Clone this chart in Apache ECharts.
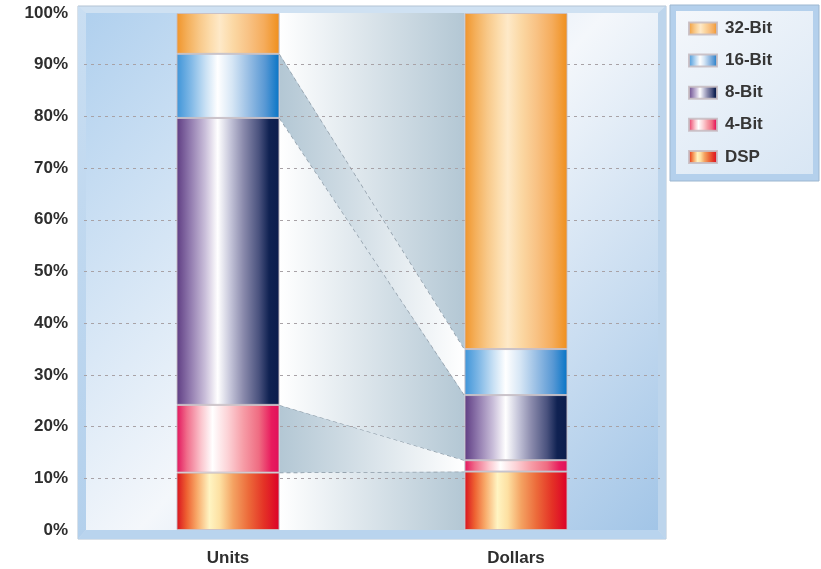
<!DOCTYPE html>
<html>
<head>
<meta charset="utf-8">
<script src="https://cdn.jsdelivr.net/npm/echarts@6/dist/echarts.min.js"></script>
<style>html,body{margin:0;padding:0;background:#fff;}#c{width:821px;height:569px;}</style>
</head>
<body>
<div id="c"></div>
<script>
const categories = ['Units', 'Dollars'];
const seriesNames = ['DSP', '4-Bit', '8-Bit', '16-Bit', '32-Bit'];
const dspValues = [11.1, 11.3];
const bit4Values = [13.1, 2.2];
const bit8Values = [55.5, 12.6];
const bit16Values = [12.4, 8.9];
const bit32Values = [7.9, 65.0];
const legendOrder = ['32-Bit', '16-Bit', '8-Bit', '4-Bit', 'DSP'];

const valuesByName = {
  'DSP': dspValues, '4-Bit': bit4Values, '8-Bit': bit8Values,
  '16-Bit': bit16Values, '32-Bit': bit32Values
};

const BAR_W = 103;
const FONT = "'Liberation Sans', Arial, sans-serif";

function hgrad(stops) {
  return {
    type: 'linear', x: 0, y: 0, x2: 1, y2: 0,
    colorStops: stops.map(s => ({ offset: s[0], color: s[1] }))
  };
}

const barGradients = {
  '32-Bit': hgrad([[0,'#f0942a'],[0.1,'#f4ae58'],[0.22,'#f8c888'],[0.33,'#fcdcac'],[0.42,'#fee9c8'],[0.55,'#fbd8a4'],[0.7,'#f8c284'],[0.85,'#f5ac5c'],[1,'#ef8f1c']]),
  '16-Bit': hgrad([[0,'#3e94d8'],[0.14,'#80b8e6'],[0.28,'#c8e0f4'],[0.4,'#ffffff'],[0.54,'#d6e6f5'],[0.7,'#98bee4'],[0.86,'#5898d4'],[1,'#0674c6']]),
  '8-Bit':  hgrad([[0,'#5e3c82'],[0.12,'#8c74aa'],[0.28,'#cabfda'],[0.4,'#ffffff'],[0.52,'#c6c6da'],[0.65,'#8a8aac'],[0.8,'#4a527e'],[0.9,'#102252'],[1,'#0c1c4c']]),
  '4-Bit':  hgrad([[0,'#e2125c'],[0.1,'#f06c8a'],[0.24,'#fbc6ce'],[0.35,'#ffffff'],[0.5,'#fcd2d6'],[0.65,'#f69ca6'],[0.8,'#ef6c82'],[0.92,'#e81c5e'],[1,'#e0105a']]),
  'DSP':    hgrad([[0,'#d8101e'],[0.1,'#ee6232'],[0.2,'#f8aa6a'],[0.32,'#fff4c2'],[0.42,'#fde0a2'],[0.55,'#f4a262'],[0.7,'#ec6a3a'],[0.85,'#e43226'],[1,'#dc0028']])
};

// cumulative segments for the connector bands
const connectorData = [];
let cu = 0, cd = 0;
seriesNames.forEach((n, i) => {
  const v = valuesByName[n];
  connectorData.push([0, cu, cu + v[0], cd, cd + v[1], i]);
  cu += v[0]; cd += v[1];
});

const barSeries = seriesNames.map(n => ({
  name: n,
  type: 'bar',
  stack: 'total',
  barWidth: BAR_W,
  z: 4,
  data: valuesByName[n],
  itemStyle: { color: barGradients[n], borderColor: 'rgba(200,190,195,0.9)', borderWidth: 1 },
  emphasis: { disabled: true }
}));

const connectorSeries = {
  name: 'connectors',
  type: 'custom',
  z: 2,
  silent: true,
  encode: { x: 0, y: [1, 2, 3, 4] },
  data: connectorData,
  renderItem: function (params, api) {
    const uB = api.coord([0, api.value(1)]);
    const uT = api.coord([0, api.value(2)]);
    const dB = api.coord([1, api.value(3)]);
    const dT = api.coord([1, api.value(4)]);
    const xL = uB[0] + BAR_W / 2;
    const xR = dB[0] - BAR_W / 2;
    const idx = api.value(5);
    const gray = '#b3c7d4', white = '#ffffff';
    const stops = (idx % 2 === 1)
      ? [{ offset: 0, color: gray }, { offset: 1, color: white }]
      : [{ offset: 0, color: white }, { offset: 1, color: gray }];
    const children = [{
      type: 'polygon',
      shape: { points: [[xL, uT[1]], [xR, dT[1]], [xR, dB[1]], [xL, uB[1]]] },
      style: { fill: { type: 'linear', x: 0, y: 0, x2: 1, y2: 0, colorStops: stops }, stroke: null }
    }];
    if (idx < seriesNames.length - 1) {
      children.push({
        type: 'line',
        shape: { x1: xL, y1: uT[1], x2: xR, y2: dT[1] },
        style: { stroke: '#8c9aa6', lineWidth: 1.3, lineDash: [4, 3] }
      });
    }
    return { type: 'group', children: children };
  }
};

const chart = echarts.init(document.getElementById('c'), null, { renderer: 'canvas' });
chart.setOption({
  animation: false,
  backgroundColor: '#ffffff',
  grid: { left: 84, width: 576, top: 13, height: 517, containLabel: false },
  xAxis: {
    type: 'category',
    data: categories,
    axisLine: { show: false },
    axisTick: { show: false },
    axisLabel: { margin: 20, fontSize: 17, fontWeight: 'bold', color: '#2e2e2e', fontFamily: FONT }
  },
  yAxis: {
    type: 'value',
    min: 0, max: 100, interval: 10,
    z: 3,
    axisLine: { show: false },
    axisTick: { show: false },
    axisLabel: { margin: 16, fontSize: 17, fontWeight: 'bold', color: '#2e2e2e', fontFamily: FONT, formatter: '{value}%' },
    splitLine: {
      show: true,
      showMinLine: false,
      showMaxLine: false,
      lineStyle: { color: '#a8a2a6', type: [3, 4], width: 1 }
    }
  },
  legend: {
    data: legendOrder,
    orient: 'vertical',
    left: 688,
    top: 20,
    padding: 0,
    itemWidth: 28,
    itemHeight: 12,
    itemGap: 15.1,
    z: 7,
    icon: 'rect',
    selectedMode: false,
    textStyle: { fontSize: 17, fontWeight: 'bold', color: '#363636', fontFamily: FONT, padding: [0, 0, 0, 3] }
  },
  graphic: {
    elements: [
      { type: 'rect', z: 0, silent: true, shape: { x: 78, y: 6, width: 588, height: 533 },
        style: { fill: '#cfe1f2', stroke: '#b3c3d3', lineWidth: 1 } },
      { type: 'polygon', z: 0, silent: true, shape: { points: [[78, 6], [86, 13], [86, 530], [78, 539]] },
        style: { fill: { type: 'linear', x: 0, y: 0, x2: 0, y2: 1, colorStops: [{ offset: 0, color: '#c9def2' }, { offset: 1, color: '#b3d0ec' }] } } },
      { type: 'polygon', z: 0, silent: true, shape: { points: [[78, 539], [86, 530], [658, 530], [666, 539]] },
        style: { fill: '#b9d4ee' } },
      { type: 'polygon', z: 0, silent: true, shape: { points: [[658, 13], [666, 6], [666, 539], [658, 530]] },
        style: { fill: '#bdd5ec' } },
      { type: 'rect', z: 0, silent: true, shape: { x: 86, y: 13, width: 572, height: 517 },
        style: { fill: { type: 'linear', x: 0, y: 0, x2: 1, y2: 1,
          colorStops: [{ offset: 0, color: '#b0d0ee' }, { offset: 0.5, color: '#f4f7fb' }, { offset: 1, color: '#a2c5e7' }] } } },
      { type: 'rect', z: 5, silent: true, shape: { x: 670, y: 5, width: 149, height: 176 },
        style: { fill: '#b4d0ec', stroke: '#9db7d0', lineWidth: 1 } },
      { type: 'rect', z: 5, silent: true, shape: { x: 676, y: 11, width: 137, height: 163 },
        style: { fill: { type: 'linear', x: 0, y: 0, x2: 1, y2: 1,
          colorStops: [{ offset: 0, color: '#f4f7fb' }, { offset: 1, color: '#d8e6f4' }] } } }
    ]
  },
  series: [connectorSeries].concat(barSeries)
});
</script>
</body>
</html>
